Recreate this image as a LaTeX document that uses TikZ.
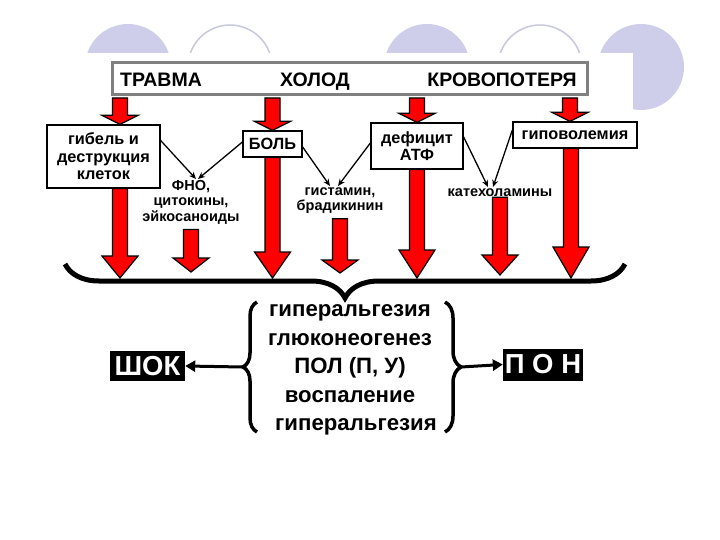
\documentclass[tikz,border=0pt]{standalone}
\usepackage{fontspec}
\setmainfont{Liberation Sans}
\usetikzlibrary{arrows.meta, calc, decorations.pathreplacing}

\definecolor{lavender}{RGB}{206,206,234}
\definecolor{ringgray}{RGB}{200,200,222}
\definecolor{framegray}{RGB}{128,128,128}

% fat red arrow: x from #2, starts at y of #3, tip at y of #4
\newcommand{\fatarrow}[4][20pt]{%
  \filldraw[fat] let \p1=(#2), \p2=(#3), \p3=(#4) in
    (\x1-7.5pt,\y2) -- (\x1-7.5pt,\y3+#1) -- (\x1-18pt,\y3+#1) -- (\x1,\y3)
    -- (\x1+18pt,\y3+#1) -- (\x1+7.5pt,\y3+#1) -- (\x1+7.5pt,\y2) -- cycle;}

\begin{document}
\begin{tikzpicture}[x=1pt, y=1pt,
  topbox/.style={rectangle, draw=framegray, line width=3pt, fill=white, minimum width=475pt, minimum height=32pt},
  cause/.style={anchor=base, font=\fontsize{19.5}{21}\selectfont\bfseries},
  box/.style={rectangle, draw, line width=1.3pt, fill=white, align=center, inner sep=0pt, font=\fontsize{16.3}{17.5}\selectfont\bfseries},
  mediator/.style={align=center, inner sep=1pt, font=\fontsize{14.5}{15.5}\selectfont\bfseries},
  result/.style={align=center, inner sep=0pt, font=\fontsize{22.2}{28.5}\selectfont\bfseries},
  outcome/.style={rectangle, fill=black, text=white, inner sep=0pt, font=\fontsize{27.5}{29}\selectfont\bfseries},
  link/.style={-{Stealth[length=7pt, width=6pt]}, line width=1.3pt},
  fat/.style={fill=red, draw=black, line width=1.2pt},
  bigbrace/.style={decorate, decoration={brace, amplitude=34pt}, line width=5pt},
  sidebrace/.style={decorate, decoration={brace, amplitude=#1}, line width=3.5pt},
  thickarrow/.style={-{Triangle[length=10pt, width=11pt]}, line width=3pt}
]
  \useasboundingbox (0,0) rectangle (720,-540);
  % Slide decoration
  \begin{scope}
    \clip (0,0) -- (720,0) -- (720,-540) -- (633,-540) -- (633,-53) -- (0,-53) -- cycle;
    \fill[lavender] (128,-67) circle (43) (427,-67) circle (43) (641,-67) circle (43);
    \draw[ringgray, line width=1.5pt] (230,-67) circle (42) (540,-67) circle (42);
  \end{scope}

  % Causes
  \node[topbox] (top) at (349.5,-79) {};
  \node[cause] (trauma) at (161,-87) {ТРАВМА};
  \node[cause] (cold) at (315,-87) {ХОЛОД};
  \node[cause] (bloodloss) at (502,-87) {КРОВОПОТЕРЯ};

  % First effects
  \node[box, minimum width=113pt, minimum height=63pt] (death) at (103.5,-156.5) {гибель и\\деструкция\\клеток};
  \node[box, minimum width=59pt, minimum height=26pt] (pain) at (272.5,-144) {БОЛЬ};
  \node[box, minimum width=92pt, minimum height=46pt] (atp) at (417,-146) {дефицит\\АТФ};
  \node[box, minimum width=124pt, minimum height=26pt] (hypovol) at (575,-135) {гиповолемия};

  % Mediators
  \node[mediator, anchor=north] (tnf) at (191,-179) {ФНО,\\цитокины,\\эйкосаноиды};
  \node[mediator, anchor=north] (hist) at (340,-186) {гистамин,\\брадикинин};
  \node[mediator, anchor=north] (cat) at (500,-187) {катехоламины};

  \draw[link] ([yshift=16pt]death.east) -- ([xshift=5pt]tnf.north);
  \draw[link] ([yshift=2pt]pain.west) -- ([xshift=7pt]tnf.north);
  \draw[link] ([yshift=-3pt]pain.east) -- ([xshift=-10pt]hist.north);
  \draw[link] ([yshift=3pt]atp.west) -- ([xshift=-2pt]hist.north);
  \draw[link] ([yshift=9pt]atp.east) -- ([xshift=-12pt]cat.north);
  \draw[link] ([yshift=5pt]hypovol.west) -- ([xshift=-7pt]cat.north);

  % Red arrows
  \coordinate (brace) at (345,-278);
  \fatarrow[9pt]{[xshift=16.5pt]death.north}{[yshift=-1.5pt]top.south}{death.north}
  \fatarrow[9pt]{pain.north}{[yshift=-1.5pt]top.south}{pain.north}
  \fatarrow[9pt]{atp.north}{[yshift=-1.5pt]top.south}{atp.north}
  \fatarrow[9pt]{[xshift=-5pt]hypovol.north}{[yshift=-1.5pt]top.south}{hypovol.north}
  \fatarrow[22pt]{[xshift=16.5pt]death.south}{death.south}{brace}
  \fatarrow[14pt]{tnf.south}{[yshift=-4pt]tnf.south}{[yshift=6pt]brace}
  \fatarrow[26pt]{pain.south}{pain.south}{brace}
  \fatarrow[13pt]{hist.south}{[yshift=-4pt]hist.south}{[yshift=5pt]brace}
  \fatarrow[28pt]{atp.south}{atp.south}{brace}
  \fatarrow[20pt]{cat.south}{cat.south}{[yshift=3pt]brace}
  \fatarrow[31pt]{[xshift=-4pt]hypovol.south}{hypovol.south}{brace}

  % Brace
  \draw[bigbrace] (625,-264) -- (65,-264);

  % Results
  \node[result] (effects) at (350,-370) {гиперальгезия\\глюконеогенез\\ПОЛ (П, У)\\воспаление\\\hspace*{12pt}гиперальгезия};
  \draw[sidebrace=14pt] (257,-432) -- (257,-302);
  \draw[sidebrace=16pt] (445,-302) -- (445,-432);
  \coordinate (lefttip) at (243,-367);
  \coordinate (righttip) at (461,-367);

  % Outcomes
  \node[outcome, minimum width=75pt, minimum height=30pt] (shock) at (147.5,-366) {ШОК};
  \node[outcome, minimum width=80pt, minimum height=32pt] (pon) at (543,-364.5) {П О Н};
  \draw[thickarrow] (lefttip) -- (shock.east);
  \draw[thickarrow] (righttip) -- (pon.west);
\end{tikzpicture}
\end{document}
